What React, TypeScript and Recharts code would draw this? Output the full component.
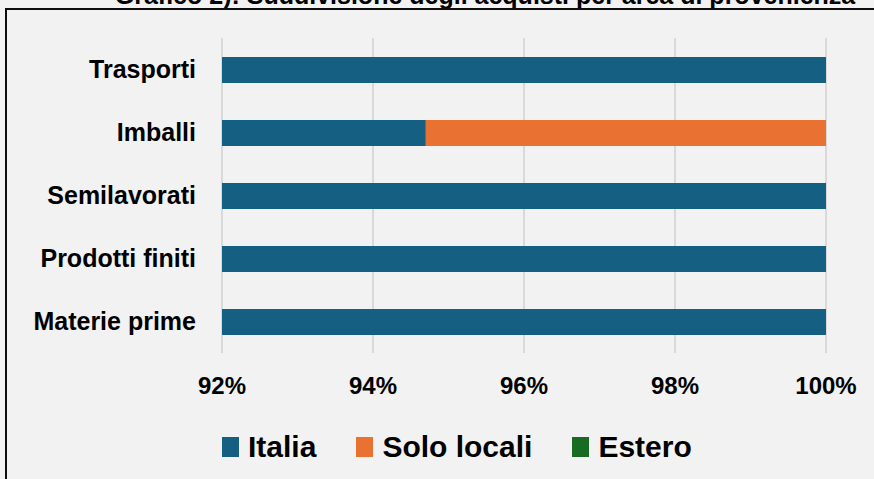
import { Bar, BarChart, CartesianGrid, Legend, XAxis, YAxis } from "recharts";

const categories = ["Trasporti", "Imballi", "Semilavorati", "Prodotti finiti", "Materie prime"];
const italia = [100, 94.7, 100, 100, 100];
const soloLocali = [0, 5.3, 0, 0, 0];
const estero = [0, 0, 0, 0, 0];
const xTicks = [92, 94, 96, 98, 100];

const series = [
  { key: "italia", name: "Italia", color: "#156082" },
  { key: "soloLocali", name: "Solo locali", color: "#E97132" },
  { key: "estero", name: "Estero", color: "#196B24" }
];

const data = categories.map((name, i) => ({
  name,
  italia: italia[i],
  soloLocali: soloLocali[i],
  estero: estero[i]
}));

const font = "'Liberation Sans', Arial, sans-serif";

function LegendContent() {
  return (
    <div
      style={{
        height: 76,
        boxSizing: "border-box",
        paddingTop: 34,
        paddingLeft: 222,
        display: "flex",
        alignItems: "flex-start",
        fontFamily: font
      }}
    >
      {series.map((s) => (
        <div
          key={s.key}
          style={{ display: "flex", alignItems: "center", height: 20, marginRight: 40 }}
        >
          <span style={{ width: 17, height: 20, background: s.color, marginRight: 9 }} />
          <span style={{ fontSize: 30, fontWeight: 700, lineHeight: "20px", color: "#000" }}>
            {s.name}
          </span>
        </div>
      ))}
    </div>
  );
}

export default function App() {
  return (
    <div
      style={{
        position: "fixed",
        left: 0,
        top: 0,
        width: 874,
        height: 479,
        background: "#F2F2F2",
        overflow: "hidden"
      }}
    >
      {/* title is cropped by the top edge, as in the original */}
      <div
        style={{
          position: "absolute",
          left: 110,
          top: -17,
          width: 750,
          textAlign: "center",
          fontFamily: font,
          fontWeight: 700,
          fontSize: 25,
          lineHeight: "25px",
          whiteSpace: "nowrap",
          color: "#000"
        }}
      >
        Grafico 2): Suddivisione degli acquisti per area di provenienza
      </div>
      <div
        style={{
          position: "absolute",
          left: 5,
          top: 8,
          width: 900,
          height: 500,
          border: "2px solid #0D0D0D"
        }}
      />
      <div style={{ position: "absolute", left: 0, top: 0 }}>
        <BarChart
          width={874}
          height={479}
          data={data}
          layout="vertical"
          margin={{ top: 38, right: 48, bottom: 0, left: 0 }}
          barSize={26}
        >
          <CartesianGrid horizontal={false} stroke="#D9D9D9" strokeWidth={2} />
          <XAxis
            type="number"
            domain={[92, 100]}
            ticks={xTicks}
            allowDataOverflow
            tickFormatter={(v) => `${v}%`}
            axisLine={false}
            tickLine={false}
            tickMargin={18}
            height={50}
            tick={{ fill: "#000", fontSize: 24, fontWeight: 700, fontFamily: font }}
          />
          <YAxis
            type="category"
            dataKey="name"
            width={222}
            axisLine={false}
            tickLine={false}
            tickMargin={20}
            tick={{ fill: "#000", fontSize: 25, fontWeight: 700, fontFamily: font }}
          />
          <Legend verticalAlign="bottom" content={() => <LegendContent />} />
          {series.map((s) => (
            <Bar
              key={s.key}
              dataKey={s.key}
              name={s.name}
              stackId="a"
              fill={s.color}
              isAnimationActive={false}
            />
          ))}
        </BarChart>
      </div>
    </div>
  );
}
